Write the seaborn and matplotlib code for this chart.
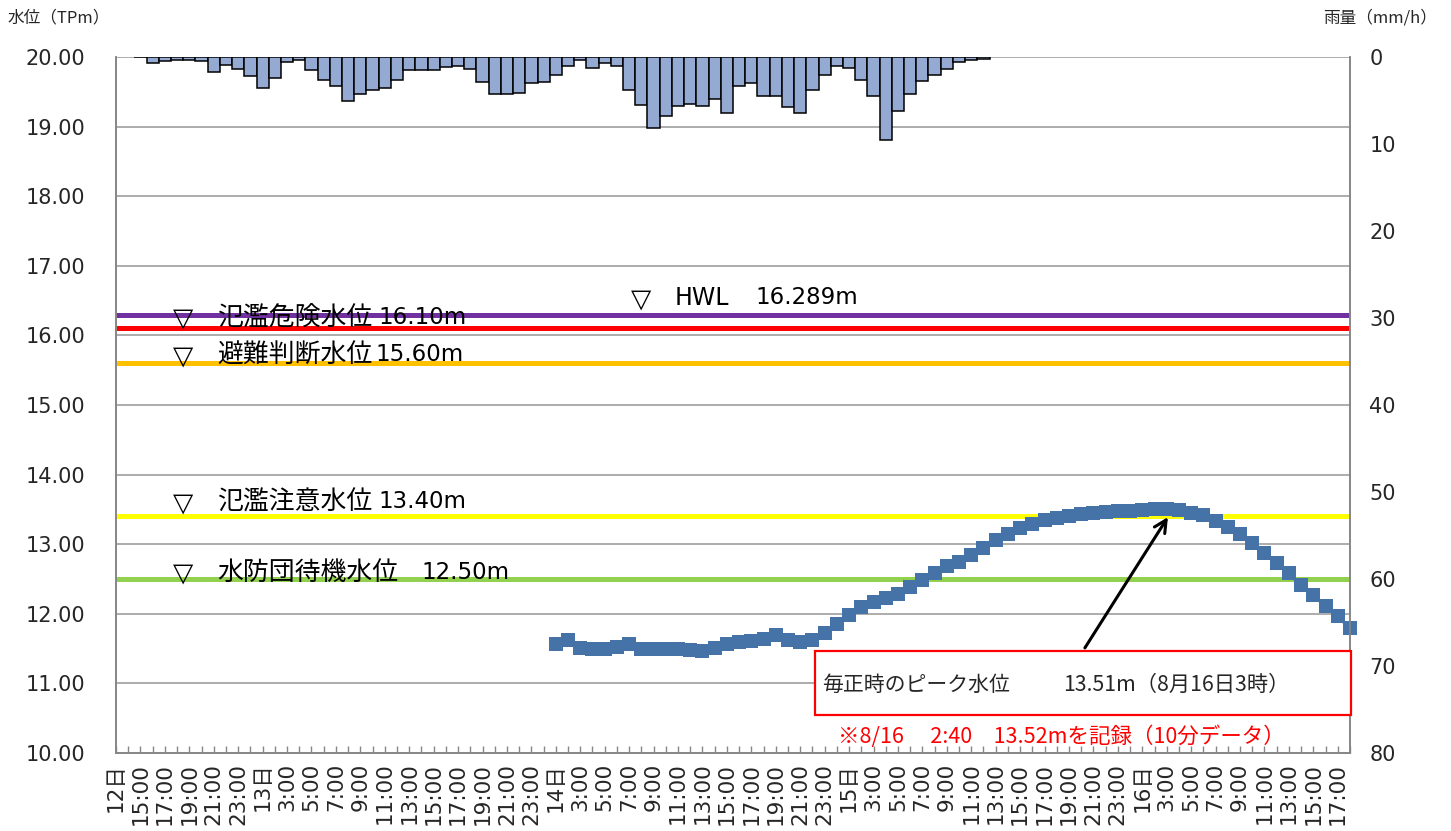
import numpy as np
import pandas as pd
import matplotlib
matplotlib.use("Agg")
import matplotlib.pyplot as plt
import seaborn as sns
from matplotlib.patches import Rectangle

sns.set_theme(style="white")
plt.rcParams['font.family'] = ['Noto Sans CJK JP', 'DejaVu Sans']
NUMFONT = ['DejaVu Sans', 'Noto Sans CJK JP']

# ---------------- data ----------------
n_cat = 102  # hourly categories
tick_labels = (["12日", "15:00", "17:00", "19:00", "21:00", "23:00",
                "13日", "3:00", "5:00", "7:00", "9:00", "11:00", "13:00", "15:00",
                "17:00", "19:00", "21:00", "23:00",
                "14日", "3:00", "5:00", "7:00", "9:00", "11:00", "13:00", "15:00",
                "17:00", "19:00", "21:00", "23:00",
                "15日", "3:00", "5:00", "7:00", "9:00", "11:00", "13:00", "15:00",
                "17:00", "19:00", "21:00", "23:00",
                "16日", "3:00", "5:00", "7:00", "9:00", "11:00", "13:00", "15:00",
                "17:00"])

rain_start = 2
rain = [0.0, 0.7, 0.5, 0.3, 0.3, 0.5, 1.7, 0.9, 1.4, 2.2, 3.6, 2.4, 0.6, 0.3,
        1.5, 2.6, 3.3, 5.1, 4.3, 3.75, 3.6, 2.6, 1.5, 1.5, 1.5, 1.2, 1.0, 1.4,
        2.9, 4.3, 4.2, 4.1, 3.0, 2.9, 2.1, 1.0, 0.4, 1.3, 0.7, 1.0, 3.75, 5.5,
        8.2, 6.8, 5.6, 5.4, 5.6, 4.8, 6.4, 3.3, 3.0, 4.5, 4.5, 5.7, 6.4, 3.75,
        2.1, 1.0, 1.3, 2.6, 4.5, 9.5, 6.2, 4.3, 2.8, 2.1, 1.4, 0.6, 0.4, 0.2]

level_start = 36
level = [11.56, 11.63, 11.51, 11.49, 11.50, 11.52, 11.56, 11.50, 11.49, 11.49,
         11.50, 11.48, 11.47, 11.51, 11.56, 11.59, 11.61, 11.64, 11.70, 11.62,
         11.60, 11.63, 11.73, 11.85, 11.98, 12.10, 12.17, 12.22, 12.28, 12.39,
         12.49, 12.59, 12.68, 12.75, 12.84, 12.94, 13.06, 13.15, 13.23, 13.29,
         13.35, 13.38, 13.41, 13.43, 13.45, 13.46, 13.47, 13.48, 13.49, 13.50,
         13.51, 13.49, 13.45, 13.42, 13.34, 13.25, 13.15, 13.02, 12.87, 12.73,
         12.58, 12.41, 12.27, 12.11, 11.97, 11.79]

line_names = ["HWL", "氾濫危険水位", "避難判断水位", "氾濫注意水位", "水防団待機水位"]
line_values = [16.289, 16.10, 15.60, 13.40, 12.50]
line_value_texts = ["16.289m", "16.10m", "15.60m", "13.40m", "12.50m"]
line_colors = ["#7030A0", "#FF0000", "#FFC000", "#FFFF00", "#92D050"]

peak_text = "毎正時のピーク水位"
peak_value_text = "13.51m（8月16日3時）"
note_text = "※8/16　 2:40　13.52mを記録（10分データ）"

# ---------------- figure ----------------
W, H = 1451, 831
fig = plt.figure(figsize=(W / 100, H / 100), dpi=100)
ax = fig.add_axes([116 / W, 1 - 753 / H, (1350 - 116) / W, (753 - 57) / H])
ax2 = ax.twinx()

df_rain = pd.DataFrame({"k": np.arange(rain_start, rain_start + len(rain)), "rain": rain})
df_level = pd.DataFrame({"k": np.arange(level_start, level_start + len(level)), "level": level})

# threshold lines
for v, c in zip(line_values, line_colors):
    ax.axhline(v, color=c, lw=3.6, zorder=2, solid_capstyle="butt")

# water level
sns.lineplot(data=df_level, x="k", y="level", ax=ax, color="#4572A7", lw=2.5,
             marker="s", markersize=10.5, markeredgewidth=0, zorder=4)
ax.lines[-1].set_clip_on(False)

# rain bars
sns.barplot(data=df_rain, x="k", y="rain", ax=ax2, native_scale=True, orient="x",
            width=1.0, color="#95AAD3", saturation=1, edgecolor="black",
            linewidth=1.1, errorbar=None)

# axes setup
ax.set_xlim(0, n_cat - 1)
ax.set_ylim(10, 20)
ax2.set_ylim(80, 0)
ax.set_yticks(np.arange(10, 20.01, 1))
ax.set_yticklabels([f"{v:.2f}" for v in np.arange(10, 20.01, 1)], family=NUMFONT)
ax2.set_yticks(np.arange(0, 81, 10))
ax2.set_yticklabels([str(v) for v in range(0, 81, 10)], family=NUMFONT)
ax.set_xticks(np.arange(n_cat))
xl = []
for i in range(n_cat):
    xl.append(tick_labels[i // 2] if (i % 2 == 0 and i // 2 < len(tick_labels)) else "")
ax.set_xticklabels(xl, rotation=90, family=NUMFONT)
ax.set_xlabel("")
ax.set_ylabel("")
ax2.set_xlabel("")
ax2.set_ylabel("")

ax.yaxis.grid(True, color="#A6A6A6", lw=1.3)
ax.set_axisbelow(True)
ax.tick_params(axis="x", direction="in", length=5, width=1, color="#868686",
               pad=7, labelsize=15.5, bottom=True)
ax.tick_params(axis="y", length=0, pad=22, labelsize=15)
ax2.tick_params(axis="y", length=0, pad=14, labelsize=15)
for a in (ax, ax2):
    for s in a.spines.values():
        s.set_color("#868686")
        s.set_linewidth(1.2)
    a.spines["top"].set_visible(False)

# threshold labels
sym_x = [43.0, 5.48, 5.48, 5.48, 5.48]
name_x = [45.75, 8.27, 8.27, 8.27, 8.27]
val_x = [52.3, 21.44, 21.2, 21.44, 25.04]
txt_y = [16.54, 16.26, 15.72, 13.61, 12.60]
for n, vt, sx, nx, vx, ty in zip(line_names, line_value_texts, sym_x, name_x, val_x, txt_y):
    ax2.text(sx, ty - 0.02, "▽", transform=ax.transData, ha="center", va="center",
             fontsize=19, fontweight="bold", family=NUMFONT, color="black", zorder=5)
    if n == "HWL":
        ax2.text(nx, ty, n, transform=ax.transData, ha="left", va="center",
                 fontsize=17, family=NUMFONT, color="black", zorder=5)
    else:
        ax2.text(nx, ty, n, transform=ax.transData, ha="left", va="center",
                 fontsize=18.6, color="black", zorder=5)
    ax2.text(vx, ty, vt, transform=ax.transData, ha="left", va="center",
             fontsize=16.5, family=NUMFONT, color="black", zorder=5)

# annotation box and arrow
ax2.add_patch(Rectangle((57.2, 10.55), 43.9, 0.92, transform=ax.transData,
                        facecolor="white", edgecolor="#FF0000", lw=1.6,
                        clip_on=False, zorder=6))
ax2.text(57.8, 10.98, peak_text, transform=ax.transData, ha="left", va="center",
         fontsize=15, zorder=7)
ax2.text(77.5, 10.98, peak_value_text, transform=ax.transData, ha="left", va="center",
         fontsize=15.3, zorder=7)
ax2.annotate("", xy=(86.1, 13.39), xytext=(79.3, 11.51),
             xycoords=ax.transData, textcoords=ax.transData,
             arrowprops=dict(arrowstyle="->", color="black", lw=2.2,
                             mutation_scale=22, shrinkA=0, shrinkB=0), zorder=7)
ax2.text(59.1, 10.23, note_text, transform=ax.transData, ha="left", va="center",
         fontsize=15.5, color="#FF0000", zorder=7)

# axis titles
fig.text(8 / W, 1 - 18 / H, "水位（TPm）", ha="left", va="center", fontsize=12)
fig.text(1437 / W, 1 - 18 / H, "雨量（mm/h）", ha="right", va="center", fontsize=12)

fig.savefig("out.png", dpi=100)
